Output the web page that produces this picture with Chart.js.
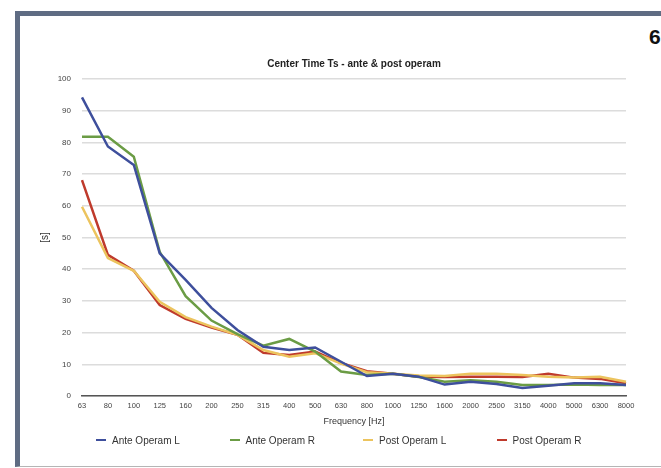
<!DOCTYPE html>
<html>
<head>
<meta charset="utf-8">
<script src="https://cdn.jsdelivr.net/npm/chart.js@4"></script>
<style>
html,body{margin:0;padding:0;width:661px;height:468px;overflow:hidden;background:#fff;}
#frame{position:absolute;left:15px;top:11px;width:700px;height:450px;border-left:5px solid #5f6c83;border-top:5px solid #5f6c83;border-bottom:1px solid #b5b5b5;}
#pagenum{position:absolute;left:649px;top:25px;font:bold 21px "Liberation Sans",Arial,sans-serif;color:#111;}
#chart{position:absolute;left:0;top:0;}
#legend{position:absolute;left:0;top:433px;width:661px;height:14px;font:10px "Liberation Sans",Arial,sans-serif;color:#333;}
.li{position:absolute;top:0;height:14px;display:flex;align-items:center;white-space:nowrap;}
.mk{display:inline-block;width:10px;height:2px;margin-right:6px;}
</style>
</head>
<body>
<div id="frame"></div>
<div id="pagenum">6</div>
<canvas id="chart" width="661" height="468"></canvas>
<div id="legend"></div>
<script>
const chartTitle = 'Center Time Ts - ante & post operam';
const xTitle = 'Frequency [Hz]';
const yTitle = '[s]';
const frequencies = ['63','80','100','125','160','200','250','315','400','500','630','800','1000','1250','1600','2000','2500','3150','4000','5000','6300','8000'];
const seriesNames = ['Ante Operam L','Ante Operam R','Post Operam L','Post Operam R'];
const anteOperamL = [94.2, 78.7, 72.9, 45, 36.6, 27.8, 20.8, 15.5, 14.5, 15.3, 10.8, 6.3, 7, 6.1, 3.6, 4.5, 3.8, 2.5, 3.2, 4, 4, 3.5];
const anteOperamR = [81.8, 81.8, 75.5, 45.5, 31.5, 23.8, 19.5, 15.9, 18, 14, 7.7, 6.6, 7, 6, 4.5, 5, 4.5, 3.5, 3.5, 3.6, 3.5, 3.5];
const postOperamL = [59.7, 43.5, 39.5, 29.7, 24.9, 21.9, 19.3, 14.5, 12.4, 13.5, 10.2, 7.5, 7, 6.5, 6.3, 7, 7, 6.6, 6.1, 5.8, 6.1, 4.5];
const postOperamR = [68.1, 44.5, 39.5, 28.7, 24.3, 21.6, 19.3, 13.6, 12.9, 14, 10.4, 7.8, 7, 6.1, 6, 6.1, 6.1, 6, 7, 5.8, 5.4, 4];
const yTicks = [0,10,20,30,40,50,60,70,80,90,100];
const seriesValues = [anteOperamL, anteOperamR, postOperamL, postOperamR];
const seriesColors = ['#3e4f9c','#6b9c45','#ecc45e','#bf3a2c'];

const FONT = '"Liberation Sans", Arial, sans-serif';

const chart = new Chart(document.getElementById('chart'), {
  type: 'line',
  data: {
    labels: frequencies,
    datasets: seriesNames.map((n, i) => ({
      label: n,
      data: seriesValues[i],
      borderColor: seriesColors[i],
      backgroundColor: seriesColors[i],
      borderWidth: 2.5,
      pointRadius: 0,
      tension: 0,
      fill: false
    }))
  },
  options: {
    responsive: false,
    animation: false,
    devicePixelRatio: 1,
    layout: {padding: {left: 30, right: 35, top: 54, bottom: 38}},
    plugins: {
      legend: {display: false},
      tooltip: {enabled: false},
      title: {
        display: true, text: chartTitle, fullSize: false,
        font: {family: FONT, size: 10, weight: 'bold'}, color: '#222',
        padding: {top: 4, bottom: 9}
      }
    },
    scales: {
      x: {
        grid: {display: false, drawTicks: false},
        border: {display: true, color: '#555', width: 1.5},
        ticks: {autoSkip: false, maxRotation: 0, minRotation: 0, padding: 5.5, font: {family: FONT, size: 7.5}, color: '#444'},
        title: {display: true, text: xTitle, font: {family: FONT, size: 9}, color: '#333', padding: {top: 0, bottom: 2.6}},
        afterFit(s) { s.height = 34; }
      },
      y: {
        min: 0, max: 100,
        afterBuildTicks(s) { s.ticks = yTicks.map(v => ({value: v})); },
        ticks: {padding: 11, font: {family: FONT, size: 8}, color: '#444'},
        grid: {color: '#dcdcdc', lineWidth: 1.5, drawTicks: false},
        border: {display: false},
        title: {display: true, text: yTitle, font: {family: FONT, size: 10}, color: '#333', padding: {top: 9, bottom: 0}},
        afterFit(s) { s.width = 52; }
      }
    }
  }
});

// HTML legend built from the chart's datasets
const legendEl = document.getElementById('legend');
chart.data.datasets.forEach((ds, i) => {
  const item = document.createElement('div');
  item.className = 'li';
  item.style.left = (96 + i * 133.5) + 'px';
  const mk = document.createElement('span');
  mk.className = 'mk';
  mk.style.background = ds.borderColor;
  const tx = document.createElement('span');
  tx.textContent = ds.label;
  item.appendChild(mk);
  item.appendChild(tx);
  legendEl.appendChild(item);
});
</script>
</body>
</html>
